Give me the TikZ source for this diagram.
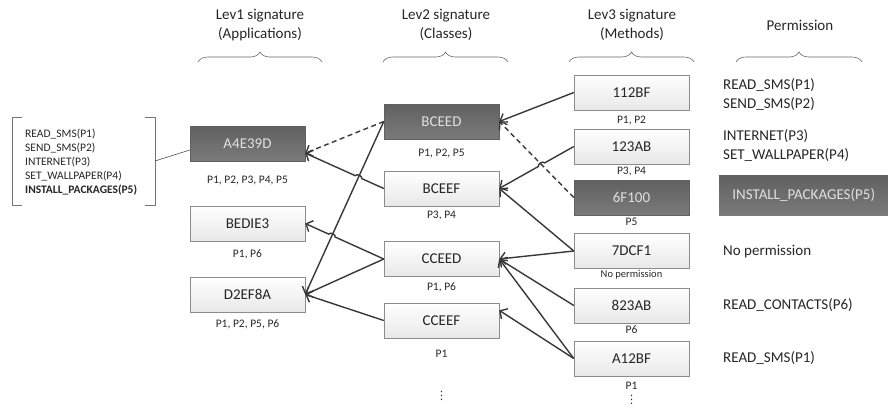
\documentclass[tikz,border=0pt]{standalone}
\usepackage{fontspec}
\setmainfont{Carlito}
\newfontfamily\dotsfont{DejaVu Sans}
\usetikzlibrary{arrows.meta,calc,intersections,decorations.pathreplacing}

\begin{document}
\begin{tikzpicture}[x=1pt, y=-1pt,
    >={Straight Barb[length=5.5pt,width=12pt]},
    sig/.style={draw=black!45, top color=white, bottom color=black!9, minimum width=115pt, minimum height=35pt, inner sep=0pt, font=\fontsize{15}{18}\selectfont, text=black!85},
    darksig/.style={sig, draw=black!62, top color=black!62, bottom color=black!52, text=black!12},
    perm/.style={inner sep=0pt, font=\fontsize{11.5}{14}\selectfont, text=black!85},
    head/.style={align=center, font=\fontsize{15}{19}\selectfont, text=black!85},
    side/.style={anchor=west, align=left, inner sep=0pt, font=\fontsize{15}{19}\selectfont, text=black!85},
    more/.style={inner sep=0pt, font=\dotsfont\fontsize{11.5}{11.5}\selectfont, text=black!80},
    link/.style={->, draw=black!78, line width=1.4pt},
    hop/.style={dash pattern=on 5pt off 3.5pt},
    brace/.style={decorate, decoration={brace, amplitude=10pt}, draw=black!60, line width=0.6pt}]
    \useasboundingbox (0,0) rectangle (888,408);

    % Headers and braces
    \node[head] (hLev1) at (260,25) {Lev1 signature\\(Applications)};
    \node[head] (hLev2) at (446,25) {Lev2 signature\\(Classes)};
    \node[head] (hLev3) at (632,25) {Lev3 signature\\(Methods)};
    \node[head] (hPerm) at (800,25) {Permission};
    \draw[brace] (198,62) -- (322,62);
    \draw[brace] (383,62) -- (508,62);
    \draw[brace] (569,62) -- (694,62);
    \draw[brace] (736,62) -- (862,62);

    % Permission list of A4E39D
    \node[perm, anchor=west, align=left] (plist) at (25,162) {READ\_SMS(P1)\\SEND\_SMS(P2)\\INTERNET(P3)\\SET\_WALLPAPER(P4)\\\textbf{INSTALL\_PACKAGES(P5)}};
    \draw[black!55, line width=0.8pt] (22,117) -- (12,117) -- (12,205) -- (22,205);
    \draw[black!55, line width=0.8pt] (145,117) -- (155,117) -- (155,205) -- (145,205);
    \coordinate (plistend) at (155,161);

    % Lev1 signatures
    \node[darksig] (A4E39D) at (247.5,144) {A4E39D};
    \node[sig] (BEDIE3) at (247.5,223.5) {BEDIE3};
    \node[sig] (D2EF8A) at (247.5,294.5) {D2EF8A};
    \node[perm] (pA4E39D) at (247.5,180) {P1, P2, P3, P4, P5};
    \node[perm] (pBEDIE3) at (247.5,254) {P1, P6};
    \node[perm] (pD2EF8A) at (247.5,324) {P1, P2, P5, P6};

    % Lev2 signatures
    \node[darksig] (BCEED) at (441.5,121.5) {BCEED};
    \node[sig] (BCEEF) at (441.5,188.5) {BCEEF};
    \node[sig] (CCEED) at (441.5,259) {CCEED};
    \node[sig] (CCEEF) at (441.5,320.5) {CCEEF};
    \node[perm] (pBCEED) at (441.5,153) {P1, P2, P5};
    \node[perm] (pBCEEF) at (441.5,215) {P3, P4};
    \node[perm] (pCCEED) at (441.5,287) {P1, P6};
    \node[perm] (pCCEEF) at (441.5,354) {P1};
    \node[more] (dLev2) at (441.5,396) {⋮};

    % Lev3 signatures
    \node[sig] (m112BF) at (631.5,92.5) {112BF};
    \node[sig] (m123AB) at (631.5,146.5) {123AB};
    \node[darksig] (m6F100) at (631.5,197.5) {6F100};
    \node[sig] (m7DCF1) at (631.5,251) {7DCF1};
    \node[sig] (m823AB) at (631.5,305.5) {823AB};
    \node[sig] (mA12BF) at (631.5,358.5) {A12BF};
    \node[perm] (pm112BF) at (631.5,120) {P1, P2};
    \node[perm] (pm123AB) at (631.5,171) {P3, P4};
    \node[perm] (pm6F100) at (631.5,222) {P5};
    \node[perm, font=\fontsize{10.5}{12}\selectfont] (pm7DCF1) at (631.5,275) {No permission};
    \node[perm] (pm823AB) at (631.5,330) {P6};
    \node[perm] (pmA12BF) at (631.5,386) {P1};
    \node[more] (dLev3) at (631.5,399.5) {⋮};

    % Permissions
    \node[side] (sSms) at (723,94.5) {READ\_SMS(P1)\\SEND\_SMS(P2)};
    \node[side] (sInternet) at (723,145.5) {INTERNET(P3)\\SET\_WALLPAPER(P4)};
    \node[darksig, draw=none, anchor=west, minimum width=169pt, minimum height=40pt] (sInstall) at (719,195.5) {INSTALL\_PACKAGES(P5)};
    \node[side] (sNone) at (723,252) {No permission};
    \node[side] (sContacts) at (723,305) {READ\_CONTACTS(P6)};
    \node[side] (sSms2) at (723,358) {READ\_SMS(P1)};

    % Links
    \draw[black!70, line width=0.6pt] (plistend) -- ([yshift=-6pt]A4E39D.west);
    \draw[link, hop] (BCEED.west) -- (A4E39D.-9);
    \draw[link, name path=eddee] (BCEED.west) -- (D2EF8A.east);
    \path[name path=efaee] (BCEEF.west) -- (A4E39D.-9);
    \path[name intersections={of=eddee and efaee, by=hopA}];
    \draw[link] (BCEEF.west) -- ($(hopA)!3.5pt!(BCEEF.west)$) to[bend right=90] ($(hopA)!3.5pt!(A4E39D.-9)$) -- (A4E39D.-9);
    \path[name path=ecbee] (CCEED.west) -- (BEDIE3.east);
    \path[name intersections={of=eddee and ecbee, by=hopB}];
    \draw[link] (CCEED.west) -- ($(hopB)!3.5pt!(CCEED.west)$) to[bend right=90] ($(hopB)!3.5pt!(BEDIE3.east)$) -- (BEDIE3.east);
    \draw[link] (CCEED.west) -- (D2EF8A.east);
    \draw[link] (CCEEF.west) -- (D2EF8A.east);
    \draw[link] (m112BF.west) -- (BCEED.east);
    \draw[link, hop, name path=mfbee] (m6F100.west) -- (BCEED.east);
    \path[name path=mabee] (m123AB.west) -- (BCEEF.east);
    \path[name intersections={of=mfbee and mabee, by=hopC}];
    \draw[link] (m123AB.west) -- ($(hopC)!3.5pt!(m123AB.west)$) to[bend right=90] ($(hopC)!3.5pt!(BCEEF.east)$) -- (BCEEF.east);
    \draw[link] (m7DCF1.west) -- (BCEEF.east);
    \draw[link] (m7DCF1.west) -- (CCEED.east);
    \draw[link] (m823AB.west) -- (CCEED.east);
    \draw[link] (mA12BF.west) -- (CCEED.east);
    \draw[link] (mA12BF.west) -- (CCEEF.10);
\end{tikzpicture}
\end{document}
